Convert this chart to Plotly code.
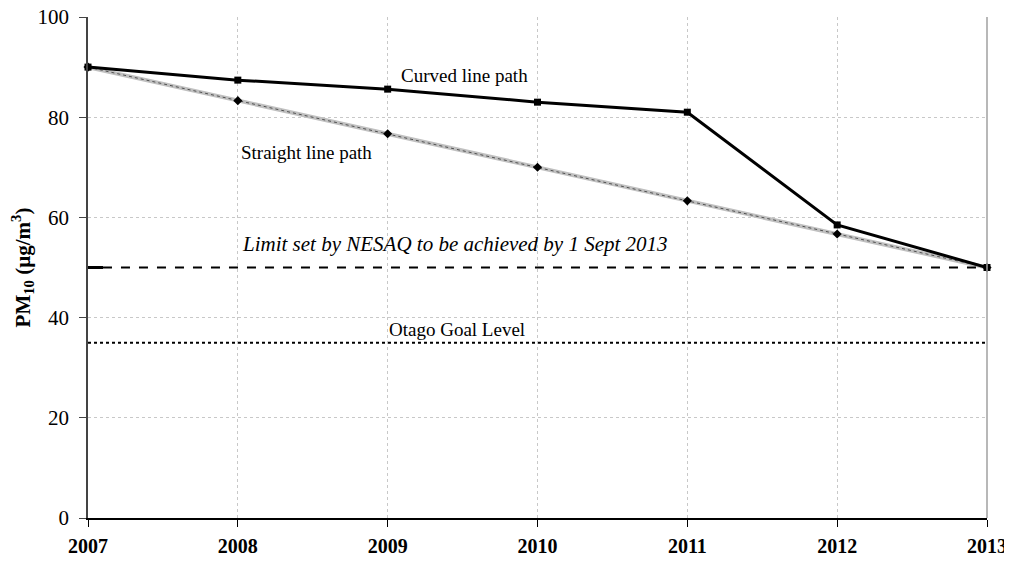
import plotly.graph_objects as go

years = [2007, 2008, 2009, 2010, 2011, 2012, 2013]
curved_path = [90.0, 87.4, 85.6, 83.0, 81.0, 58.5, 50.0]
straight_path = [90.0, 83.3, 76.7, 70.0, 63.3, 56.7, 50.0]
limit_value = 50
goal_value = 35
y_ticks = [0, 20, 40, 60, 80, 100]

FONT = "Liberation Serif, Times New Roman, serif"

fig = go.Figure()

# Straight path: light stippled grey band
fig.add_trace(go.Scatter(x=years, y=straight_path, mode="lines",
                         line=dict(color="#c0c0c0", width=4), cliponaxis=False, showlegend=False))
fig.add_trace(go.Scatter(x=years, y=straight_path, mode="lines+markers",
                         line=dict(color="#505050", width=1, dash="dot"),
                         marker=dict(symbol="diamond", size=7, color="black"),
                         cliponaxis=False, showlegend=False))
# Curved path
fig.add_trace(go.Scatter(x=years, y=curved_path, mode="lines+markers",
                         line=dict(color="black", width=3),
                         marker=dict(symbol="square", size=7, color="black"),
                         cliponaxis=False, showlegend=False))

# Limit line (dashed) and goal line (dotted)
fig.add_shape(type="line", x0=years[0] + 0.1, x1=years[-1], y0=limit_value, y1=limit_value,
              line=dict(color="black", width=2, dash="dash"))
fig.add_shape(type="line", x0=years[0], x1=years[0] + 0.1, y0=limit_value, y1=limit_value,
              line=dict(color="black", width=3))
fig.add_shape(type="line", x0=years[0], x1=years[-1], y0=goal_value, y1=goal_value,
              line=dict(color="black", width=2, dash="dot"))

ann = dict(showarrow=False, font=dict(family=FONT, size=19, color="black"))
fig.add_annotation(x=2009.51, y=88.4, text="Curved line path", **ann)
fig.add_annotation(x=2008.46, y=72.9, text="Straight line path", **ann)
fig.add_annotation(x=2009.45, y=54.7, text="<i>Limit set by NESAQ to be achieved by 1 Sept 2013</i>",
                   showarrow=False, font=dict(family=FONT, size=21, color="black"))
fig.add_annotation(x=2009.46, y=37.7, text="Otago Goal Level", **ann)

# The page body has an 8px default margin, so the figure is sized/placed to compensate
fig.update_layout(
    width=1012, height=551,
    margin=dict(l=80, r=33, t=9, b=41),
    plot_bgcolor="white", paper_bgcolor="white",
    font=dict(family=FONT, size=19, color="black"),
    xaxis=dict(range=[2007, 2013], tickvals=years, ticktext=[f"<b>{y}</b>" for y in years],
               showgrid=True, gridcolor="#c8c8c8", griddash="dot", gridwidth=1,
               showline=True, linecolor="black", linewidth=1.5,
               ticks="outside", ticklen=7, tickcolor="black", ticklabelstandoff=2,
               ticklabeloverflow="allow",
               tickfont=dict(family=FONT, size=20), zeroline=False, automargin=False),
    yaxis=dict(range=[0, 100], tickvals=y_ticks,
               showgrid=True, gridcolor="#c8c8c8", griddash="dot", gridwidth=1,
               showline=True, linecolor="#444", linewidth=1.5,
               ticks="outside", ticklen=7, tickcolor="#444", ticklabelstandoff=6,
               ticklabeloverflow="allow",
               tickfont=dict(family=FONT, size=21), zeroline=False, automargin=False,
               title=dict(text="<b>PM<sub>10</sub> (µg/m<sup>3</sup>)</b>", standoff=13,
                          font=dict(family=FONT, size=21))),
)
# Right border at 2013 (grey)
fig.add_shape(type="line", xref="paper", yref="paper", x0=1, x1=1, y0=0, y1=1,
              line=dict(color="#a0a0a0", width=1.5))

fig.write_html("out.html")
